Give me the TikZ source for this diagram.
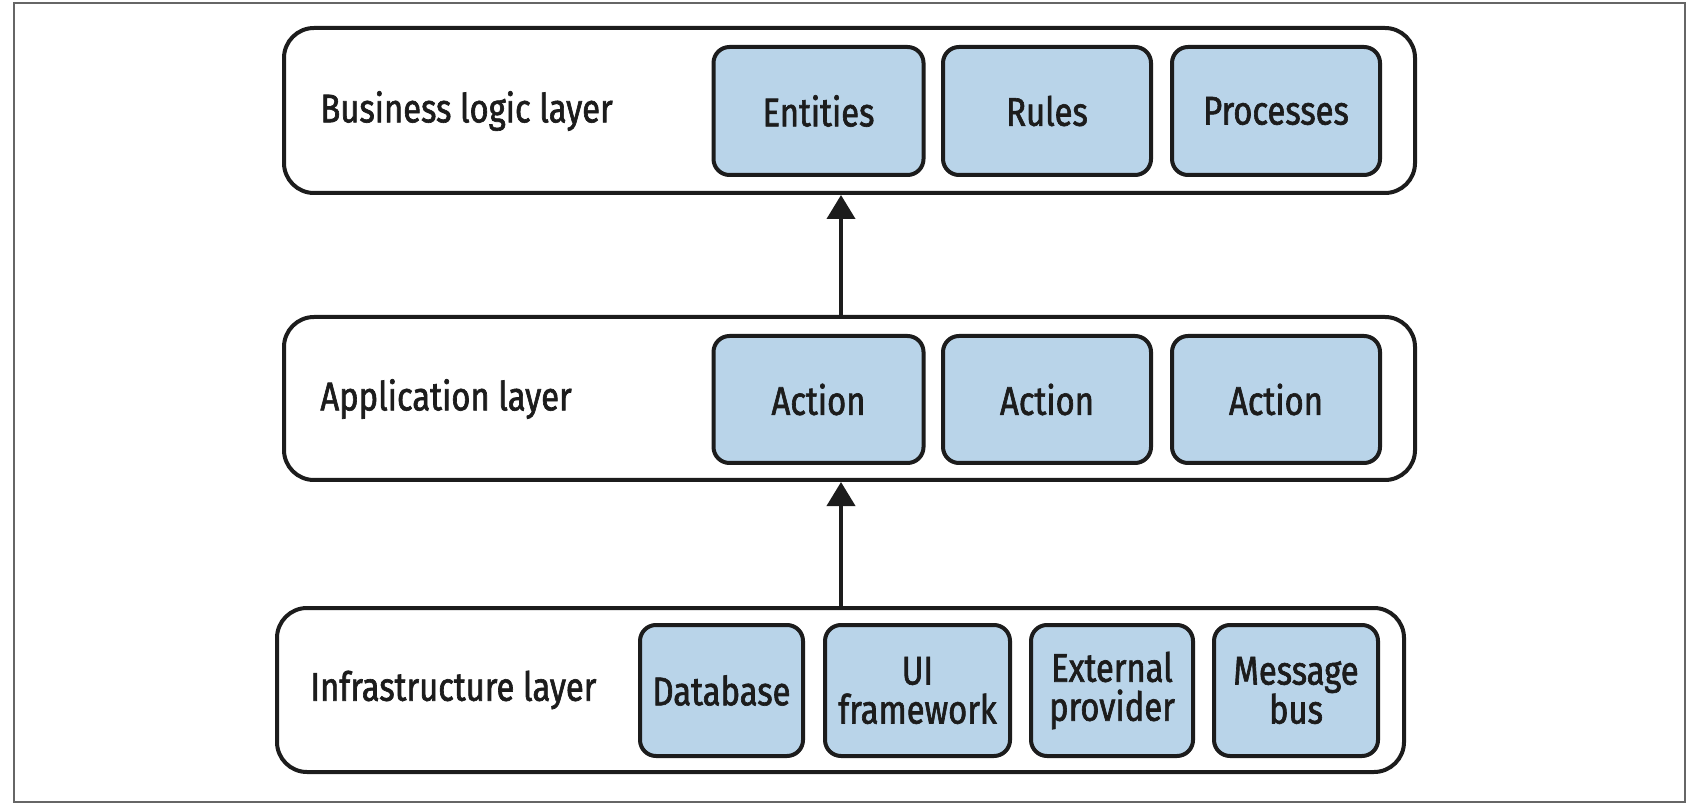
\documentclass[tikz,border=0pt]{standalone}
\usepackage{fontspec}
\setmainfont{Fira Sans}[FakeStretch=0.82, FakeBold=1.6]
\usetikzlibrary{arrows.meta}
\definecolor{boxblue}{RGB}{185,212,233}
\definecolor{ink}{RGB}{28,28,28}
\tikzset{
  layer/.style={draw=ink, line width=2pt, rounded corners=15pt, fill=white, inner sep=0pt},
  item/.style={draw=ink, line width=2pt, rounded corners=8pt, fill=boxblue, inner sep=0pt, align=center,
     font=\fontsize{20}{19.5}\selectfont, text=ink},
  lbl/.style={anchor=west, inner sep=0pt, font=\fontsize{20}{19.5}\selectfont, text=ink},
  arr/.style={draw=ink, line width=2pt, -{Triangle[width=14pt,length=12pt]}},
}
\begin{document}
\begin{tikzpicture}[x=0.5pt,y=-0.5pt]
\useasboundingbox (0,0) rectangle (1690,806);
\draw[draw=gray!80!black, line width=0.7pt] (14,3) rectangle (1685,802);
% layers
\node[layer, minimum width=565.5pt, minimum height=82.5pt] (biz) at (849.5,110.5) {};
\node[layer, minimum width=565.5pt, minimum height=81.5pt] (app) at (849.5,398.5) {};
\node[layer, minimum width=563.5pt, minimum height=82pt] (inf) at (840.5,690) {};
% labels
\node[lbl] (bizl) at (320,111) {Business logic layer};
\node[lbl] (appl) at (320,399) {Application layer};
\node[lbl] (infl) at (310,690) {Infrastructure layer};
% business items
\node[item, minimum width=105pt, minimum height=64pt] (ent) at (818.5,111) {Entities};
\node[item, minimum width=104pt, minimum height=64pt] (rul) at (1047,111) {Rules};
\node[item, minimum width=104pt, minimum height=64pt] (pro) at (1276,111) {Processes};
% application items
\node[item, minimum width=105pt, minimum height=63.5pt] (a1) at (818.5,399.5) {Action};
\node[item, minimum width=104pt, minimum height=63.5pt] (a2) at (1047,399.5) {Action};
\node[item, minimum width=104pt, minimum height=63.5pt] (a3) at (1276,399.5) {Action};
% infrastructure items
\node[item, minimum width=81.5pt, minimum height=65.5pt] (db) at (721.5,690.5) {Database};
\node[item, minimum width=92.5pt, minimum height=65.5pt] (ui) at (917.5,690.5) {UI\\framework};
\node[item, minimum width=81pt, minimum height=65.5pt] (ext) at (1112,690.5) {External\\provider};
\node[item, minimum width=82pt, minimum height=65.5pt] (msg) at (1296,690.5) {Message\\bus};
% arrows
\coordinate (ax) at (841,0);
\draw[arr] (ax |- app.north) -- (ax |- biz.south);
\draw[arr] (ax |- inf.north) -- (ax |- app.south);
\end{tikzpicture}
\end{document}
